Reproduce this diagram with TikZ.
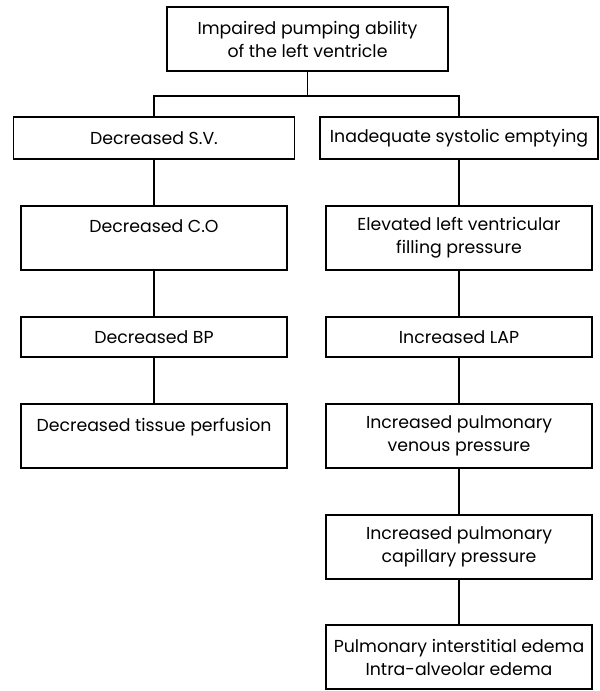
\documentclass[tikz,border=0pt]{standalone}
\usepackage{fontspec}
\setmainfont{Poppins}
\usepackage{tikz}

\begin{document}
\begin{tikzpicture}[x=0.75pt,y=-0.75pt]
\tikzset{
	box/.style={draw,
		line width=1.2pt,
		align=center,
		inner sep=0pt,
		minimum width=199.5pt, % 266px
		minimum height=48pt, % 64px
		font=\fontsize{13}{17.25}\selectfont
},
	flat/.style={box, minimum height=30pt},
	link/.style={line width=1.2pt}
}

\useasboundingbox (0,0) rectangle (599,691);
\node[box, minimum width=210.75pt] (TOP) at (307.5,39) {Impaired pumping ability\\of the left ventricle};
\coordinate (SPLIT) at (307.5,96);

% left branch
\node[flat, minimum width=210.75pt, minimum height=31.5pt] (SV) at (154,138) {Decreased S.V.};
\node[box] (CO) at (154,238) {Decreased C.O\\~};
\node[flat] (BP) at (154,337) {Decreased BP};
\node[box] (TP) at (154,436) {Decreased tissue perfusion\\~};

% right branch
\node[flat, minimum width=208.5pt, minimum height=31.5pt] (ISE) at (459,138) {Inadequate systolic emptying};
\node[box] (ELV) at (459,238) {Elevated left ventricular\\filling pressure};
\node[flat] (LAP) at (459,337) {Increased LAP};
\node[box] (PVP) at (459,436) {Increased pulmonary\\venous pressure};
\node[box] (PCP) at (459,547) {Increased pulmonary\\capillary pressure};
\node[box] (EDEMA) at (459,657) {Pulmonary interstitial edema\\Intra-alveolar edema};

{\draw[link] (TOP.south) -- (SPLIT);}
{\draw[link] (SV.north) |- (SPLIT) -| (ISE.north);}
{\draw[link] (SV) -- (CO);}
{\draw[link] (CO) -- (BP);}
{\draw[link] (BP) -- (TP);}
{\draw[link] (ISE) -- (ELV);}
{\draw[link] (ELV) -- (LAP);}
{\draw[link] (LAP) -- (PVP);}
{\draw[link] (PVP) -- (PCP);}
{\draw[link] (PCP) -- (EDEMA);}
\end{tikzpicture}
\end{document}
